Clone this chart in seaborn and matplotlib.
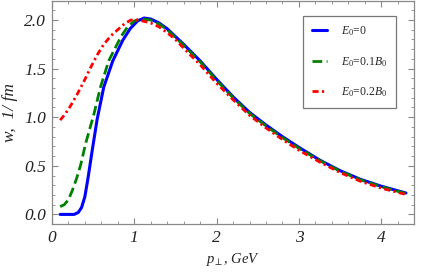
import numpy as np
import pandas as pd
import seaborn as sns
import matplotlib
matplotlib.use("Agg")
from matplotlib import pyplot as plt
from matplotlib.ticker import MultipleLocator

# E0 = 0
x_blue = [0.1, 0.2, 0.27, 0.32, 0.36, 0.4, 0.44, 0.49, 0.55, 0.63, 0.74, 0.86, 0.95, 1.04, 1.12,
          1.2, 1.3, 1.4, 1.5, 1.6, 1.8, 2.0, 2.2, 2.4, 2.6, 2.8, 3.0, 3.25, 3.5, 3.75, 4.0, 4.3]
y_blue = [0.0, 0.0, 0.0, 0.02, 0.07, 0.18, 0.38, 0.66, 0.98, 1.31, 1.58, 1.79, 1.91, 1.99, 2.02,
          2.01, 1.97, 1.91, 1.83, 1.75, 1.58, 1.39, 1.21, 1.05, 0.92, 0.80, 0.69, 0.56, 0.45, 0.36, 0.29, 0.22]

# E0 = 0.1 B0
x_green = [0.1, 0.15, 0.2, 0.25, 0.3, 0.35, 0.41, 0.46, 0.51, 0.59, 0.69, 0.84, 0.92, 1.0, 1.08,
           1.2, 1.3, 1.4, 1.5, 1.6, 1.8, 2.0, 2.2, 2.4, 2.6, 2.8, 3.0, 3.25, 3.5, 3.75, 4.0, 4.3]
y_green = [0.08, 0.10, 0.15, 0.25, 0.37, 0.51, 0.73, 0.88, 1.03, 1.31, 1.58, 1.83, 1.93, 1.99, 2.01,
           2.0, 1.96, 1.90, 1.82, 1.74, 1.57, 1.38, 1.20, 1.04, 0.91, 0.79, 0.68, 0.555, 0.445, 0.355, 0.285, 0.215]

# E0 = 0.2 B0
x_red = [0.1, 0.15, 0.2, 0.25, 0.31, 0.39, 0.47, 0.55, 0.63, 0.72, 0.8, 0.88, 0.96, 1.04,
         1.1, 1.2, 1.3, 1.4, 1.5, 1.6, 1.8, 2.0, 2.2, 2.4, 2.6, 2.8, 3.0, 3.25, 3.5, 3.75, 4.0, 4.3]
y_red = [0.97, 1.02, 1.08, 1.15, 1.24, 1.37, 1.51, 1.64, 1.75, 1.84, 1.90, 1.96, 2.0, 2.0,
         1.99, 1.97, 1.93, 1.87, 1.80, 1.71, 1.54, 1.35, 1.18, 1.02, 0.89, 0.77, 0.66, 0.54, 0.43, 0.34, 0.27, 0.205]

labels = [r"$E_0$=0", r"$E_0$=0.1$B_0$", r"$E_0$=0.2$B_0$"]

sns.set_style("ticks")
plt.rcParams["font.family"] = ["Liberation Serif", "DejaVu Serif"]
plt.rcParams["mathtext.fontset"] = "custom"
plt.rcParams["mathtext.rm"] = "Liberation Serif"
plt.rcParams["mathtext.it"] = "Liberation Serif:italic"

fig = plt.figure(figsize=(4.36, 2.72), dpi=100)
ax = fig.add_axes([0.119, 0.176, 0.831, 0.822])

sns.lineplot(x=x_blue, y=y_blue, ax=ax, color=(0, 0, 1), lw=2.2, label=labels[0])
sns.lineplot(x=x_green, y=y_green, ax=ax, color=(0, 0.5, 0), lw=2.0, label=labels[1],
             linestyle=(0, (3.5, 1.6)))
sns.lineplot(x=x_red, y=y_red, ax=ax, color=(1, 0, 0), lw=2.0, label=labels[2],
             linestyle=(0, (2.2, 1.2, 0.8, 1.2)))

ax.set_xlim(0, 4.4)
ax.set_ylim(-0.1, 2.2)
ax.xaxis.set_major_locator(MultipleLocator(1))
ax.xaxis.set_minor_locator(MultipleLocator(0.2))
ax.yaxis.set_major_locator(MultipleLocator(0.5))
ax.yaxis.set_minor_locator(MultipleLocator(0.1))
ax.xaxis.set_major_formatter(plt.FuncFormatter(lambda v, p: f"{v:.0f}"))
ax.yaxis.set_major_formatter(plt.FuncFormatter(lambda v, p: f"{v:.1f}"))

for s in ax.spines.values():
    s.set_color("#888888")
    s.set_linewidth(0.9)
ax.tick_params(which="both", direction="in", top=True, right=True, color="#888888")
ax.tick_params(which="major", length=4, width=0.8, labelsize=12.5, pad=4,
               labelcolor="#222222")
ax.tick_params(which="minor", length=2.2, width=0.6)

ax.set_xlabel(r"$p_{\!\perp}$, GeV", fontstyle="italic", fontsize=10.5, labelpad=4)
ax.set_ylabel("w,  1/ fm", fontstyle="italic", fontsize=12.5, labelpad=5)

leg = ax.legend(loc="upper right", bbox_to_anchor=(0.95, 0.933),
                frameon=True, fancybox=False, labelspacing=1.4, handlelength=1.3,
                handletextpad=1.2, borderpad=0.75, borderaxespad=0,
                prop={"style": "normal", "size": 8.5})
leg.get_frame().set_edgecolor("#555555")
leg.get_frame().set_linewidth(0.9)

# tick labels exist only after a draw; make them italic then
fig.canvas.draw()
for t in ax.get_xticklabels() + ax.get_yticklabels():
    t.set_fontstyle("italic")

fig.savefig("out.png", dpi=100)
